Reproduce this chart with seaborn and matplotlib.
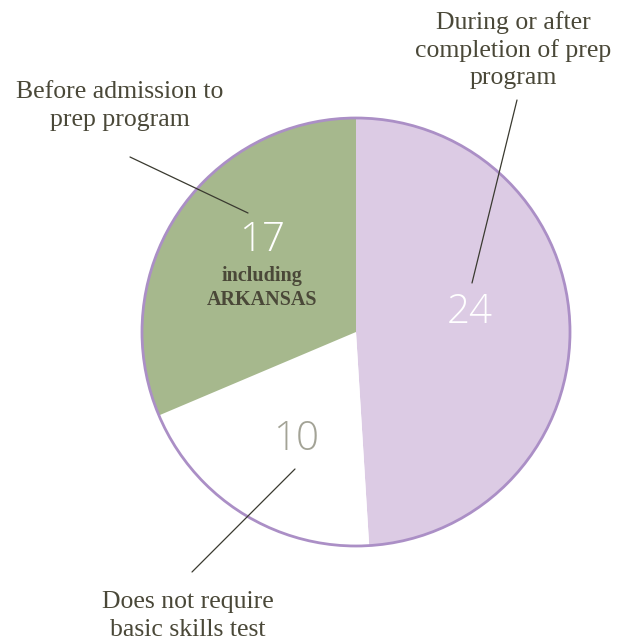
import matplotlib
matplotlib.use("Agg")
import matplotlib.pyplot as plt
import seaborn as sns

# Data
labels = ['During or after\ncompletion of prep\nprogram',
          'Does not require\nbasic skills test',
          'Before admission to\nprep program']
counts = [24, 10, 17]          # printed numbers
wedge_sizes = [25, 10, 16]     # slice sizes as drawn in the original
colors = ['#dccbe4', '#ffffff', '#a6b88d']
number_colors = ['#ffffff', '#a3a396', '#ffffff']

sns.set_theme(style="white")
text_color = '#4a4838'
serif = ['Liberation Serif', 'DejaVu Serif']

fig = plt.figure(figsize=(6.34, 6.44), dpi=100)
ax = fig.add_axes([0, 0, 1, 1])

cx, cy, r = 356, 644 - 332, 214
wedges, _ = ax.pie(wedge_sizes, colors=colors, startangle=90, counterclock=False,
                   center=(cx, cy), radius=r, frame=True,
                   wedgeprops=dict(linewidth=0))
ax.set_xlim(0, 634)
ax.set_ylim(0, 644)
ax.set_aspect('equal')
ax.axis('off')
ring = plt.Circle((cx, cy), r, fill=False, edgecolor='#ab8fc6', linewidth=2)
ax.add_patch(ring)

# numbers
num_pos = [(470, 312), (296, 440), (262, 240)]
for (x, y), n, c in zip(num_pos, counts, number_colors):
    ax.text(x, 644 - y, str(n), ha='center', va='center', fontsize=29,
            color=c, family=['Open Sans', 'DejaVu Sans'], fontweight='light')

ax.text(262, 644 - 276, 'including', ha='center', va='center', fontsize=14.5,
        fontweight='bold', color=text_color, family=serif)
ax.text(262, 644 - 300, 'ARKANSAS', ha='center', va='center', fontsize=14.5,
        fontweight='bold', color=text_color, family=serif)

# outside labels with leader lines
label_pos = [(513, 50), (188, 616), (120, 106)]
leaders = [((517, 100), (472, 283)), ((192, 572), (295, 469)), ((130, 157), (248, 213))]
for (x, y), lab, (p0, p1) in zip(label_pos, labels, leaders):
    ax.text(x, 644 - y, lab, ha='center', va='center', fontsize=18.5,
            color=text_color, family=serif, linespacing=1.3)
    ax.plot([p0[0], p1[0]], [644 - p0[1], 644 - p1[1]], color='#3a3a30', linewidth=0.9)

fig.savefig('out.png', dpi=100, facecolor='white')
